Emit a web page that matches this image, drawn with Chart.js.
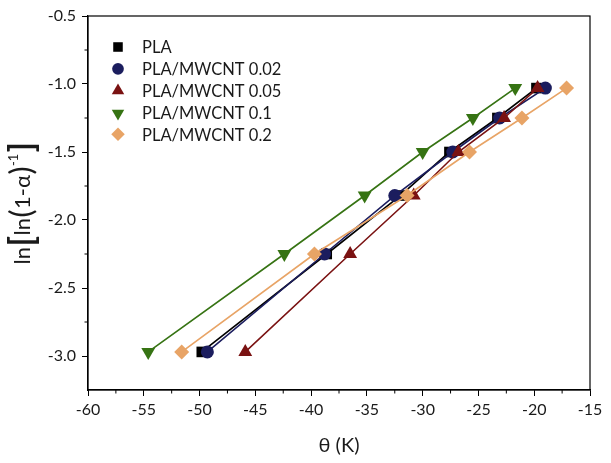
<!DOCTYPE html>
<html>
<head>
<meta charset="utf-8">
<script src="https://cdn.jsdelivr.net/npm/chart.js@4.4.1/dist/chart.umd.min.js"></script>
<style>
  html, body { margin: 0; padding: 0; background: #ffffff; }
  #wrap { width: 611px; height: 463px; }
</style>
</head>
<body>
<div id="wrap"><canvas id="c" width="611" height="463"></canvas></div>
<script>
// ln[ln(1-α)^-1] levels shared by every sample
const lnLevels = [-2.97, -2.25, -1.82, -1.50, -1.25, -1.03];

// θ (K) at each level, one array per sample
const thetaPLA   = [-49.8, -38.6, -32.0, -27.6, -23.3, -19.8];
const theta002   = [-49.3, -38.8, -32.5, -27.3, -23.1, -19.0];
const theta005   = [-45.9, -36.5, -30.8, -26.8, -22.7, -19.7];
const theta01    = [-54.6, -42.4, -35.2, -30.0, -25.5, -21.7];
const theta02    = [-51.6, -39.7, -31.4, -25.8, -21.1, -17.1];

const seriesNames = ['PLA', 'PLA/MWCNT 0.02', 'PLA/MWCNT 0.05', 'PLA/MWCNT 0.1', 'PLA/MWCNT 0.2'];

const xTickValues = [-60, -55, -50, -45, -40, -35, -30, -25, -20, -15];
const yTickValues = [-3.0, -2.5, -2.0, -1.5, -1.0, -0.5];

const FONT = 'Lato, "Open Sans", "DejaVu Sans", sans-serif';
const INK = '#1a1a1a';

function pairs(xs, ys) {
  return xs.map((x, i) => ({ x: x, y: ys[i] }));
}

const styles = [
  { color: '#000000', point: 'rect',     radius: 7.5, rotation: 0 },
  { color: '#1b1d5e', point: 'circle',   radius: 6.5, rotation: 0 },
  { color: '#7a1212', point: 'triangle', radius: 8,   rotation: 0 },
  { color: '#367313', point: 'triangle', radius: 8,   rotation: 180 },
  { color: '#e8a466', point: 'rectRot',  radius: 7.5, rotation: 0 }
];

const seriesX = [thetaPLA, theta002, theta005, theta01, theta02];

const datasets = seriesX.map((xs, i) => ({
  label: seriesNames[i],
  data: pairs(xs, lnLevels),
  borderColor: styles[i].color,
  backgroundColor: styles[i].color,
  borderWidth: 1.6,
  pointStyle: styles[i].point,
  pointRadius: styles[i].radius,
  pointRotation: styles[i].rotation,
  pointBorderWidth: 0,
  pointHoverRadius: styles[i].radius,
  showLine: true,
  tension: 0,
  order: 5 - i
}));

// Y-axis title built from pieces so the brackets can be larger than the text
const yTitlePieces = [
  { t: 'ln',  size: 22, weight: 'normal', dy: 0 },
  { t: '[',   size: 34, weight: 'bold',   dy: 3 },
  { t: 'ln',  size: 22, weight: 'normal', dy: 0 },
  { t: '(',   size: 30, weight: 'normal', dy: 2 },
  { t: '1-α', size: 22, weight: 'normal', dy: 0 },
  { t: ')',   size: 30, weight: 'normal', dy: 2 },
  { t: '-1',  size: 13, weight: 'normal', dy: -12 },
  { t: ']',   size: 34, weight: 'bold',   dy: 3 }
];

// Frame around the plot, short minor ticks, y title and the in-plot legend
const framePlugin = {
  id: 'frame',
  afterDraw(chart) {
    const ctx = chart.ctx;
    const a = chart.chartArea;
    const xs = chart.scales.x;
    const ys = chart.scales.y;
    ctx.save();
    ctx.strokeStyle = '#000';
    ctx.lineWidth = 1.2;
    ctx.strokeRect(a.left, a.top, a.right - a.left, a.bottom - a.top);

    ctx.lineWidth = 1;
    ctx.beginPath();
    for (let i = 0; i < xTickValues.length - 1; i++) {
      const px = xs.getPixelForValue((xTickValues[i] + xTickValues[i + 1]) / 2);
      ctx.moveTo(px, a.bottom);
      ctx.lineTo(px, a.bottom + 3.5);
    }
    for (let i = 0; i < yTickValues.length - 1; i++) {
      const py = ys.getPixelForValue((yTickValues[i] + yTickValues[i + 1]) / 2);
      ctx.moveTo(a.left, py);
      ctx.lineTo(a.left - 3.5, py);
    }
    ctx.stroke();

    // y title
    ctx.fillStyle = INK;
    ctx.textBaseline = 'alphabetic';
    ctx.textAlign = 'left';
    let total = 0;
    yTitlePieces.forEach(p => {
      ctx.font = p.weight + ' ' + p.size + 'px ' + FONT;
      p.w = ctx.measureText(p.t).width + (p.t === '-1' ? 1 : 0.5);
      total += p.w;
    });
    ctx.save();
    ctx.translate(30, (a.top + a.bottom) / 2);
    ctx.rotate(-Math.PI / 2);
    let cx = -total / 2;
    yTitlePieces.forEach(p => {
      ctx.font = p.weight + ' ' + p.size + 'px ' + FONT;
      ctx.fillText(p.t, cx, p.dy);
      cx += p.w;
    });
    ctx.restore();

    // legend
    const lx = a.left + 30;
    let ly = a.top + 31;
    ctx.font = '16.5px ' + FONT;
    ctx.textBaseline = 'middle';
    ctx.textAlign = 'left';
    chart.data.datasets.forEach((ds) => {
      ctx.fillStyle = ds.backgroundColor;
      ctx.strokeStyle = ds.borderColor;
      Chart.helpers.drawPoint(ctx, {
        pointStyle: ds.pointStyle,
        rotation: ds.pointRotation,
        radius: ds.pointRadius * 0.9,
        borderWidth: 0
      }, lx, ly + (ds.pointRotation === 180 ? 1 : 0));
      ctx.fillStyle = INK;
      ctx.fillText(ds.label, lx + 24, ly + 1);
      ly += 21.8;
    });
    ctx.restore();
  }
};

new Chart(document.getElementById('c'), {
  type: 'scatter',
  data: { datasets: datasets },
  options: {
    responsive: false,
    animation: false,
    devicePixelRatio: 1,
    layout: { padding: { left: 0, top: 16, right: 21, bottom: 0 } },
    plugins: {
      legend: { display: false },
      tooltip: { enabled: false }
    },
    scales: {
      x: {
        type: 'linear',
        min: -60,
        max: -15,
        afterBuildTicks(scale) { scale.ticks = xTickValues.map(v => ({ value: v })); },
        afterFit(scale) { scale.height = 73; },
        grid: { drawOnChartArea: false, drawTicks: true, tickLength: 6, color: '#000', lineWidth: 1 },
        border: { display: true, color: '#000', width: 1.2 },
        ticks: {
          color: INK,
          font: { family: FONT, size: 16 },
          padding: 4,
          maxRotation: 0,
          callback: v => String(v)
        },
        title: {
          display: true,
          text: 'θ (K)',
          color: INK,
          font: { family: FONT, size: 20 },
          padding: { top: 0, bottom: 5 }
        }
      },
      y: {
        type: 'linear',
        min: -3.25,
        max: -0.5,
        afterBuildTicks(scale) { scale.ticks = yTickValues.map(v => ({ value: v })); },
        afterFit(scale) { scale.width = 88; },
        grid: { drawOnChartArea: false, drawTicks: true, tickLength: 6, color: '#000', lineWidth: 1 },
        border: { display: true, color: '#000', width: 1.2 },
        ticks: {
          color: INK,
          font: { family: FONT, size: 16 },
          padding: 6,
          callback: v => Number(v).toFixed(1)
        },
        title: { display: false }
      }
    }
  },
  plugins: [framePlugin]
});
</script>
</body>
</html>
